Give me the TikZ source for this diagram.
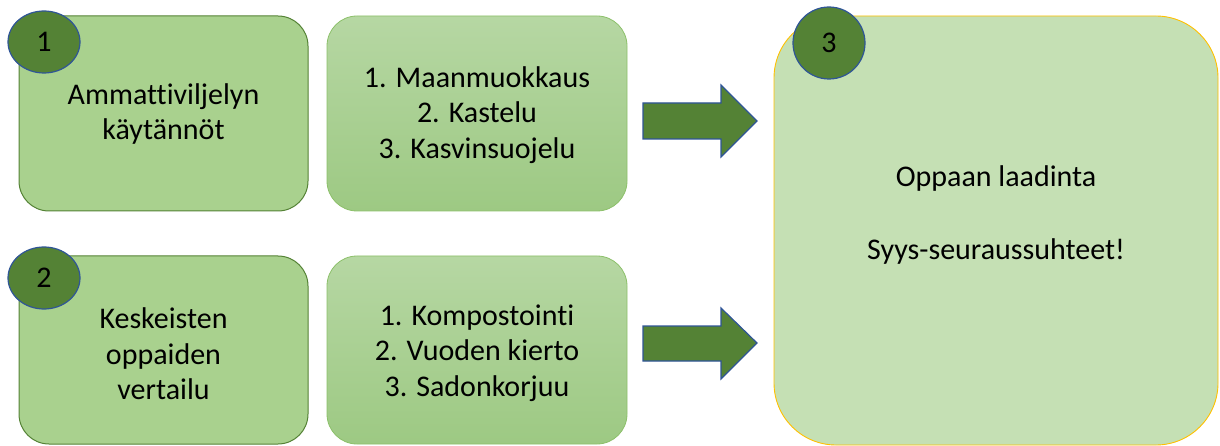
\documentclass[tikz,border=0pt]{standalone}
\usepackage{fontspec}
\setmainfont{Carlito}[Ligatures=NoCommon]
\usetikzlibrary{shapes.geometric}
\definecolor{boxfill}{HTML}{A9D18E}
\definecolor{darkgreen}{HTML}{548235}
\definecolor{gradtop}{HTML}{B6D7A3}
\definecolor{gradbot}{HTML}{9DC983}
\definecolor{gradline}{HTML}{8CC06A}
\definecolor{bigfill}{HTML}{C5E0B4}
\definecolor{bigline}{HTML}{FFC000}
\definecolor{blueline}{HTML}{2F5597}
\begin{document}
\begin{tikzpicture}[x=1pt,y=-1pt,
  txt/.style={font=\fontsize{30}{35.5}\selectfont, align=center, text=black, inner sep=0pt},
  stagebox/.style={draw=darkgreen, line width=1pt, fill=boxfill, rounded corners=30pt, minimum width=289pt, inner sep=0pt},
  listbox/.style={draw=gradline, line width=0.8pt, top color=gradtop, bottom color=gradbot, rounded corners=30pt, minimum width=300pt, inner sep=0pt},
  bigbox/.style={draw=bigline, line width=0.9pt, fill=bigfill, rounded corners=62pt, minimum width=444pt, minimum height=429pt, inner sep=0pt},
  badge/.style={draw=blueline, line width=1.2pt, fill=darkgreen, ellipse, minimum width=72pt, minimum height=62pt, inner sep=0pt},
  roundbadge/.style={draw=blueline, line width=1.2pt, fill=darkgreen, circle, minimum size=72pt, inner sep=0pt},
  blockarrow/.style={draw=blueline, fill=darkgreen, line width=1.2pt, line join=miter}
]
\useasboundingbox (0,0) rectangle (1220,446);

% boxes
\node[stagebox, minimum height=195pt] (box1) at (163.5,113.5) {};
\node[listbox, minimum height=195pt] (list1) at (477,113.5) {};
\node[stagebox, minimum height=188pt] (box2) at (163.5,350) {};
\node[listbox, minimum height=188pt] (list2) at (477,350) {};
\node[bigbox] (box3) at (996,230.5) {};

% texts
\node[txt] (t1) at (163.5,114) {Ammattiviljelyn\\käytännöt};
\node[txt] (l1) at (477,115) {1. Maanmuokkaus\\2. Kastelu\\3. Kasvinsuojelu};
\node[txt] (t2) at (163.5,354) {Keskeisten\\oppaiden\\vertailu};
\node[txt] (l2) at (477,353) {1. Kompostointi\\2. Vuoden kierto\\3. Sadonkorjuu};
\node[txt] (t3) at (996,215) {Oppaan laadinta\\[38pt]Syys-seuraussuhteet!};

% block arrows
\draw[blockarrow] (643,103) -- (721,103) -- (721,85) -- (757,121) -- (721,157) -- (721,139) -- (643,139) -- cycle;
\draw[blockarrow] (643,326) -- (721,326) -- (721,308) -- (757,343) -- (721,379) -- (721,361) -- (643,361) -- cycle;

% badges
\node[badge] (b1) at (44,42) {};
\node[txt] at (b1.center) {1};
\node[badge] (b2) at (44,278) {};
\node[txt] at (b2.center) {2};
\node[roundbadge] (b3) at (829,43) {};
\node[txt] at (b3.center) {3};
\end{tikzpicture}
\end{document}
